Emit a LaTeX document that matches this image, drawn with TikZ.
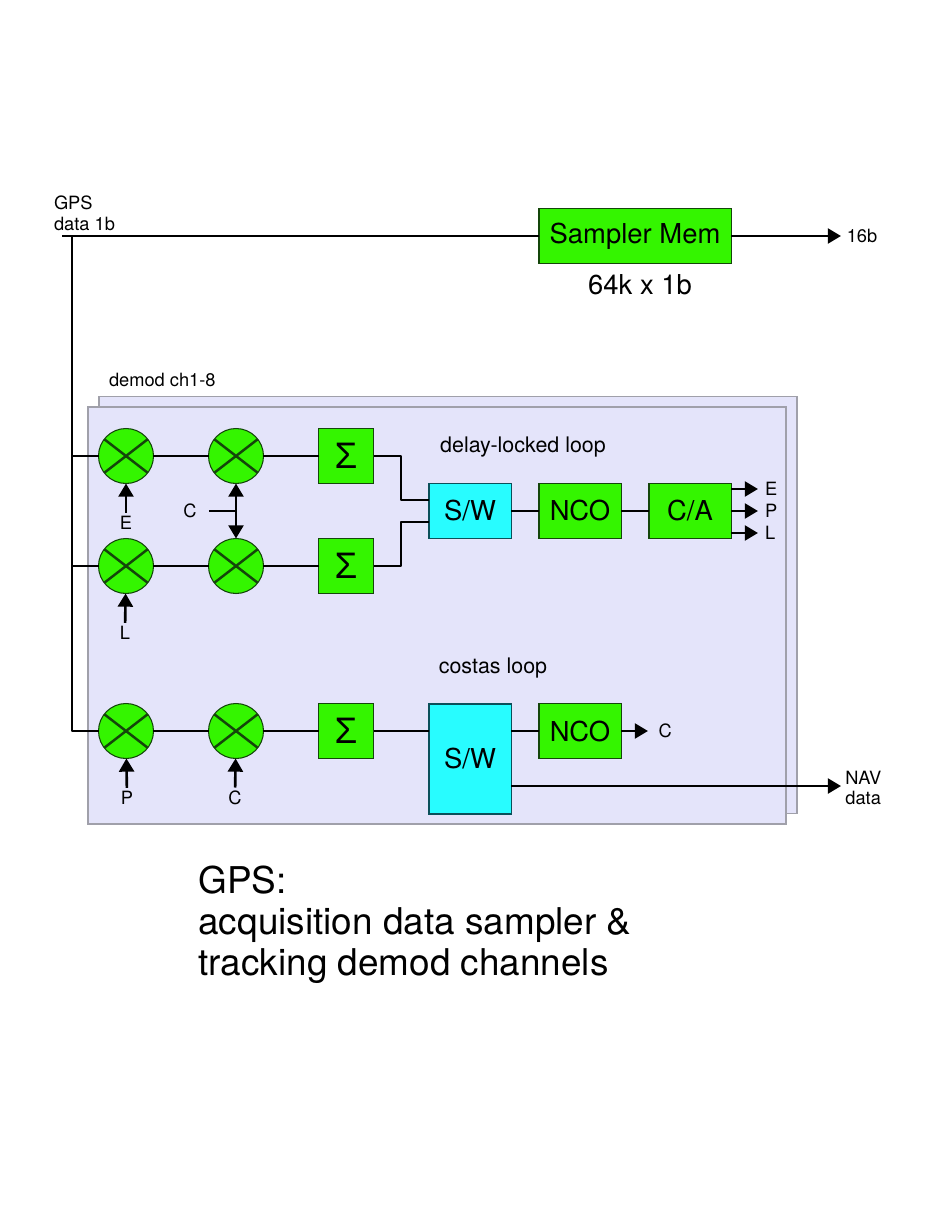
\documentclass[tikz,border=0pt]{standalone}
\usepackage{fontspec}
\setmainfont{TeX Gyre Heros}
\newfontfamily\sigmafont{Liberation Sans}
\usetikzlibrary{arrows.meta}
\begin{document}
\begin{tikzpicture}[x=0.02cm, y=-0.02cm,
        wire/.style={line width=1.5pt, line join=round},
        sig/.style={wire, -{Triangle[length=7.5pt, width=8.5pt]}},
        dblsig/.style={wire, {Triangle[length=7.5pt, width=8.5pt]}-{Triangle[length=7.5pt, width=8.5pt]}},
        panel/.style={draw=Pborder, fill=Pcolor, line width=0.7pt, shape=rectangle, minimum width=397.3pt, minimum height=237.4pt, outer sep=0pt},
        block/.style={draw=Bborder, fill=Bcolor, line width=0.6pt, shape=rectangle, minimum width=46.7pt, minimum height=31.3pt, inner sep=0pt, outer sep=0pt, font=\fontsize{15.6}{18}\selectfont},
        swblock/.style={block, fill=Scolor, draw=Sborder},
        sumblock/.style={block, minimum width=31.3pt, font=\sigmafont\fontsize{21}{22}\selectfont},
        mixer/.style={draw=Bborder, fill=Bcolor, line width=0.6pt, shape=circle, minimum width=31.3pt, inner sep=0pt, outer sep=0pt,
            path picture={\draw[line width=1.4pt] (path picture bounding box.center) +(-22,-17) -- +(22,17) +(22,-17) -- +(-22,17);}},
        smalltext/.style={inner sep=2pt, outer sep=0pt, font=\fontsize{10.4}{11.8}\selectfont},
        looptext/.style={inner sep=0pt, font=\fontsize{12.2}{15}\selectfont}]
    \definecolor{Pcolor}{RGB}{228, 228, 250}
    \definecolor{Pborder}{RGB}{160, 160, 170}
    \definecolor{Bcolor}{RGB}{52, 245, 0}
    \definecolor{Bborder}{RGB}{20, 70, 10}
    \definecolor{Scolor}{RGB}{40, 252, 255}
    \definecolor{Sborder}{RGB}{10, 80, 90}
    \useasboundingbox (0, 0) rectangle (935, 1210);

    % demod panels
    \node[panel] (panelback) at (448, 605) {};
    \node[panel] (panelfront) at (437, 615.5) {};
    \node[smalltext, anchor=west, inner sep=0pt] (demodtext) at (109, 380) {demod ch1-8};
    \node[looptext] (dlltext) at (523, 447) {delay-locked loop};
    \node[looptext] (costastext) at (493, 668) {costas loop};

    % sampler
    \node[block, minimum width=109.3pt] (sampler) at (635, 236) {Sampler Mem};
    \node[inner sep=0pt, font=\fontsize{15.6}{18}\selectfont] (samplertext) at (640, 285) {64k x 1b};
    \node[smalltext, anchor=west, inner sep=0pt, align=left] (gpstext) at (54, 213) {GPS\\data 1b};
    \node[smalltext, anchor=west, inner xsep=3.3pt] (widthtext) at (841, 236) {16b};

    % delay-locked loop
    \node[mixer] (mixE) at (126, 456) {};
    \node[mixer] (mixL) at (126, 566) {};
    \node[mixer] (mixC1) at (236, 456) {};
    \node[mixer] (mixC2) at (236, 566) {};
    \node[sumblock] (sum1) at (346, 456) {Σ};
    \node[sumblock] (sum2) at (346, 566) {Σ};
    \node[swblock] (sw1) at (470, 511) {S/W};
    \node[block] (nco1) at (580, 511) {NCO};
    \node[block] (ca) at (690, 511) {C/A};
    \node[smalltext] (lblE) at (126, 523) {E};
    \node[smalltext] (lblL) at (125, 633) {L};
    \node[smalltext, inner xsep=7pt] (lblC) at (190, 511) {C};
    \node[smalltext, anchor=west, inner xsep=4pt] (outE) at (758, 489) {E};
    \node[smalltext, anchor=west, inner xsep=4pt] (outP) at (758, 511) {P};
    \node[smalltext, anchor=west, inner xsep=4pt] (outL) at (758, 533) {L};

    % costas loop
    \node[mixer] (mixP) at (126, 731) {};
    \node[mixer] (mixC3) at (236, 731) {};
    \node[sumblock] (sum3) at (346, 731) {Σ};
    \node[swblock, minimum height=62.6pt] (sw2) at (470, 759) {S/W};
    \node[block] (nco2) at (580, 731) {NCO};
    \node[smalltext] (lblP) at (127, 798) {P};
    \node[smalltext] (lblC3) at (235, 798) {C};
    \node[smalltext, anchor=west, inner xsep=6pt] (outC) at (648, 731) {C};
    \node[smalltext, anchor=west, inner xsep=2.5pt, align=left] (nav) at (841, 788) {NAV\\data};

    \coordinate (gpsstart) at (62, 236);
    \coordinate (busE) at (72, 456);
    \coordinate (busL) at (72, 566);
    \coordinate (busP) at (72, 731);
    \coordinate (cjoin) at (236, 511);
    \coordinate (midtop) at (401, 478);
    \coordinate (midbot) at (401, 544);
    \coordinate (swtop) at (429, 500);
    \coordinate (swbot) at (429, 522);
    \coordinate (navend) at (841, 786);

    \draw[wire] (gpsstart) -- (sampler);
    \draw[sig] (sampler) -- (widthtext);
    \draw[wire] (gpsstart -| busP) -- (busP) -- (mixP);
    \draw[wire] (busE) -- (mixE);
    \draw[wire] (busL) -- (mixL);
    \draw[wire] (mixE) -- (mixC1);
    \draw[wire] (mixL) -- (mixC2);
    \draw[wire] (mixP) -- (mixC3);
    \draw[wire] (mixC1) -- (sum1);
    \draw[wire] (mixC2) -- (sum2);
    \draw[wire] (mixC3) -- (sum3);
    \draw[wire] (sum1) -| (midtop) |- (swtop);
    \draw[wire] (sum2) -| (midbot) |- (swbot);
    \draw[wire] (sw1) -- (nco1);
    \draw[wire] (nco1) -- (ca);
    \draw[wire] (sum3) -- (sw2.west |- sum3);
    \draw[wire] (sw2.east |- nco2) -- (nco2);
    \draw[sig] (lblE) -- (mixE);
    \draw[sig] (lblL) -- (mixL);
    \draw[sig] (lblP) -- (mixP);
    \draw[sig] (lblC3) -- (mixC3);
    \draw[wire] (lblC) -- (cjoin);
    \draw[dblsig] (mixC1) -- (mixC2);
    \draw[sig] (ca.east |- outE) -- (outE);
    \draw[sig] (ca.east |- outP) -- (outP);
    \draw[sig] (ca.east |- outL) -- (outL);
    \draw[sig] (nco2) -- (outC);
    \draw[sig] (sw2.east |- navend) -- (navend);

    \node[anchor=north west, inner sep=0pt, align=left, font=\fontsize{21}{23.3}\selectfont] (title) at (198, 866) {GPS:\\acquisition data sampler \&\\tracking demod channels};
\end{tikzpicture}
\end{document}
